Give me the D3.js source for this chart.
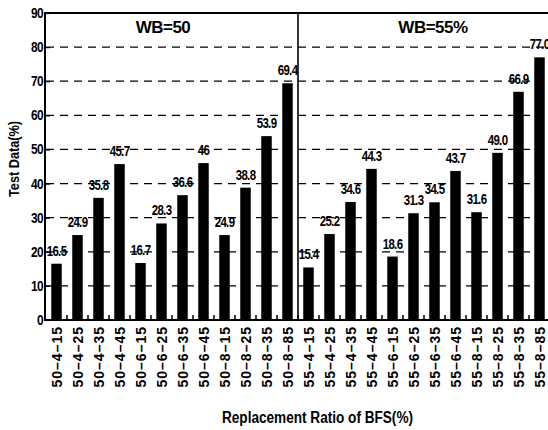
<!DOCTYPE html>
<html>
<head>
<meta charset="utf-8">
<script src="https://cdn.jsdelivr.net/npm/d3@7"></script>
<style>
  html, body { margin: 0; padding: 0; background: #fff; }
  svg { display: block; font-family: "Liberation Sans", Arial, sans-serif; }
</style>
</head>
<body>
<svg id="chart" width="548" height="430"></svg>
<script>
// ---- data ----
const categories = [
  "50–4–15","50–4–25","50–4–35","50–4–45",
  "50–6–15","50–6–25","50–6–35","50–6–45",
  "50–8–15","50–8–25","50–8–35","50–8–85",
  "55–4–15","55–4–25","55–4–35","55–4–45",
  "55–6–15","55–6–25","55–6–35","55–6–45",
  "55–8–15","55–8–25","55–8–35","55–8–85"
];
const values = [
  16.5, 24.9, 35.8, 45.7, 16.7, 28.3, 36.6, 46, 24.9, 38.8, 53.9, 69.4,
  15.4, 25.2, 34.6, 44.3, 18.6, 31.3, 34.5, 43.7, 31.6, 49.0, 66.9, 77.0
];
const valueLabels = [
  "16.5","24.9","35.8","45.7","16.7","28.3","36.6","46","24.9","38.8","53.9","69.4",
  "15.4","25.2","34.6","44.3","18.6","31.3","34.5","43.7","31.6","49.0","66.9","77.0"
];
const yTicks = [0, 10, 20, 30, 40, 50, 60, 70, 80, 90];
const gridTicks = [10, 20, 30, 40, 50, 60, 70, 80];
const panelTitles = ["WB=50", "WB=55%"];
const xTitle = "Replacement Ratio of BFS(%)";
const yTitle = "Test Data(%)";

// ---- layout ----
const svg = d3.select("#chart");
const pL = 46, pR = 550, pT = 13, pB = 320;

const x = d3.scaleBand().domain(categories).range([pL, pR]).paddingInner(0.5).paddingOuter(0.25);
const y = d3.scaleLinear().domain([0, 90]).range([pB, pT]);

// gridlines
svg.append("g").selectAll("line").data(gridTicks).join("line")
  .attr("x1", pL).attr("x2", pR)
  .attr("y1", d => y(d)).attr("y2", d => y(d))
  .attr("stroke", "#000").attr("stroke-width", 1.2)
  .attr("stroke-dasharray", "8,6");

// bars
svg.append("g").selectAll("rect").data(categories).join("rect")
  .attr("x", d => x(d))
  .attr("width", x.bandwidth())
  .attr("y", (d, i) => y(values[i]))
  .attr("height", (d, i) => y(0) - y(values[i]))
  .attr("fill", "#000");

// value labels (condensed bold)
svg.append("g").selectAll("text").data(categories).join("text")
  .attr("transform", (d, i) => `translate(${x(d) + x.bandwidth() / 2},${y(values[i]) - 8}) scale(0.82,1)`)
  .attr("text-anchor", "middle")
  .attr("font-size", 14)
  .attr("font-weight", "bold")
  .attr("letter-spacing", -0.8)
  .attr("fill", "#000")
  .text((d, i) => valueLabels[i]);

// divider between panels
const divX = (x(categories[11]) + x.bandwidth() + x(categories[12])) / 2;
svg.append("line")
  .attr("x1", divX).attr("x2", divX).attr("y1", pT).attr("y2", pB)
  .attr("stroke", "#000").attr("stroke-width", 1.6);

// frame: left axis, top, bottom
svg.append("line").attr("x1", pL - 1).attr("x2", pL - 1).attr("y1", pT - 1).attr("y2", pB + 1)
  .attr("stroke", "#000").attr("stroke-width", 2);
svg.append("line").attr("x1", pL - 2).attr("x2", pR).attr("y1", pT).attr("y2", pT)
  .attr("stroke", "#000").attr("stroke-width", 2);
svg.append("line").attr("x1", pL - 2).attr("x2", pR).attr("y1", pB).attr("y2", pB)
  .attr("stroke", "#000").attr("stroke-width", 2);

// y axis (ticks inward)
const yAxis = d3.axisLeft(y).tickValues(yTicks).tickSize(-4).tickPadding(0);
const yg = svg.append("g").attr("transform", `translate(${pL},0)`).call(yAxis);
yg.select(".domain").remove();
yg.selectAll(".tick line").attr("stroke", "#000").attr("stroke-width", 1.2);
yg.selectAll(".tick text")
  .attr("x", null)
  .attr("transform", "translate(-3,0) scale(0.85,1)")
  .attr("font-family", "Liberation Sans, Arial, sans-serif")
  .attr("font-weight", "bold")
  .attr("font-size", 14).attr("letter-spacing", -0.8).attr("fill", "#000");

// x bottom ticks between bars (upward)
const boundaries = categories.slice(1).map(c => x(c) - x.step() * x.paddingInner() / 2);
svg.append("g").selectAll("line").data(boundaries).join("line")
  .attr("x1", d => d).attr("x2", d => d)
  .attr("y1", pB).attr("y2", pB - 5)
  .attr("stroke", "#000").attr("stroke-width", 1.5);

// x tick labels (rotated)
svg.append("g").selectAll("text").data(categories).join("text")
  .attr("transform", d => `translate(${x(d) + x.bandwidth() / 2},${pB + 6}) rotate(-90)`)
  .attr("text-anchor", "end")
  .attr("dy", "0.36em")
  .attr("font-size", 14)
  .attr("font-weight", "bold")
  .attr("letter-spacing", 1)
  .attr("fill", "#000")
  .text(d => d);

// panel titles
svg.append("text").attr("x", 163).attr("y", 33).attr("text-anchor", "middle")
  .attr("font-size", 17).attr("font-weight", "bold").attr("letter-spacing", -0.5).text(panelTitles[0]);
svg.append("text").attr("x", 433).attr("y", 33).attr("text-anchor", "middle")
  .attr("font-size", 17).attr("font-weight", "bold").attr("letter-spacing", -0.5).text(panelTitles[1]);

// axis titles (condensed bold)
svg.append("text").attr("x", 222).attr("y", 423)
  .attr("font-size", 16).attr("font-weight", "bold")
  .attr("textLength", 191).attr("lengthAdjust", "spacingAndGlyphs")
  .text(xTitle);
svg.append("text").attr("transform", "translate(19,197) rotate(-90)")
  .attr("font-size", 15).attr("font-weight", "bold")
  .attr("textLength", 76).attr("lengthAdjust", "spacingAndGlyphs")
  .text(yTitle);
</script>
</body>
</html>
